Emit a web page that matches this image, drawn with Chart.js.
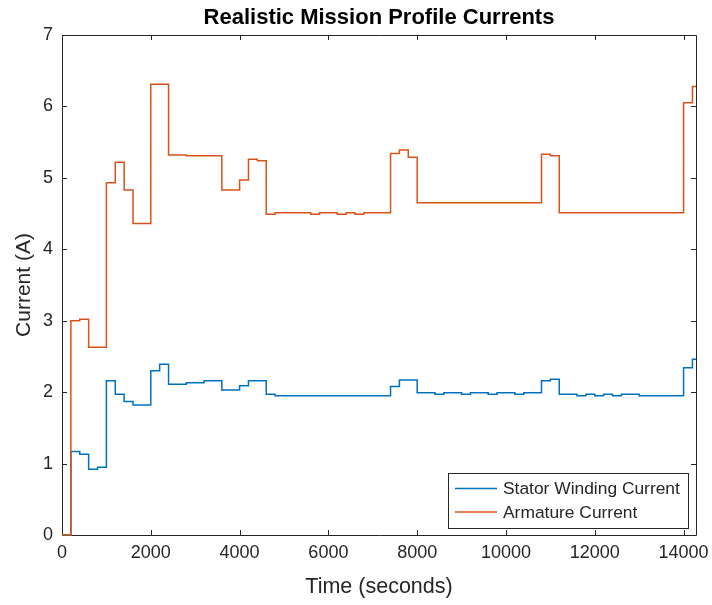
<!DOCTYPE html>
<html>
<head>
<meta charset="utf-8">
<title>Realistic Mission Profile Currents</title>
<script src="https://cdn.jsdelivr.net/npm/chart.js@4/dist/chart.umd.min.js"></script>
<style>
  html, body { margin: 0; padding: 0; background: #ffffff; }
  #wrap { width: 712px; height: 605px; }
</style>
</head>
<body>
<div id="wrap"><canvas id="chart" width="712" height="605"></canvas></div>
<script>
// Mission profile samples: each current value holds until the next time stamp (stairs).
const statorTimes = [0, 200, 400, 600, 800, 1000, 1200, 1400, 1600, 2000, 2200, 2400, 2800, 3200, 3600,
  4000, 4200, 4600, 4800, 7400, 7600, 8000, 8400, 8600, 9000, 9200, 9600, 9800, 10200, 10400,
  10800, 11000, 11200, 11600, 11800, 12000, 12200, 12400, 12600, 13000, 14000, 14200, 14280];
const statorCurrent = [0, 1.17, 1.13, 0.92, 0.95, 2.16, 1.97, 1.87, 1.82, 2.30, 2.39, 2.11, 2.13, 2.16, 2.03,
  2.09, 2.16, 1.97, 1.95, 2.08, 2.17, 1.99, 1.97, 1.99, 1.97, 1.99, 1.97, 1.99, 1.97, 1.99,
  2.16, 2.18, 1.97, 1.95, 1.97, 1.95, 1.97, 1.95, 1.97, 1.95, 2.34, 2.46, 2.46];

const armatureTimes = [0, 200, 400, 600, 1000, 1200, 1400, 1600, 2000, 2400, 2800, 3600, 4000, 4200, 4400,
  4600, 4800, 5600, 5800, 6200, 6400, 6600, 6800, 7400, 7600, 7800, 8000, 10800, 11000, 11200,
  14000, 14200, 14280];
const armatureCurrent = [0, 3.00, 3.02, 2.63, 4.93, 5.22, 4.83, 4.36, 6.31, 5.32, 5.31, 4.83, 4.97, 5.26, 5.24,
  4.49, 4.51, 4.49, 4.51, 4.49, 4.51, 4.49, 4.51, 5.34, 5.39, 5.29, 4.65, 5.33, 5.31, 4.51,
  6.05, 6.28, 6.28];

const seriesNames = ['Stator Winding Current', 'Armature Current'];
const timeTicks = [0, 2000, 4000, 6000, 8000, 10000, 12000, 14000];
const currentTicks = [0, 1, 2, 3, 4, 5, 6, 7];

const chartTitle = 'Realistic Mission Profile Currents';
const xTitle = 'Time (seconds)';
const yTitle = 'Current (A)';

const BLUE = '#0072BD';
const ORANGE = '#D95319';
const AXIS = '#262626';
const FONT = '"Liberation Sans", Arial, Helvetica, sans-serif';

function toPoints(xs, ys) {
  return xs.map((x, i) => ({ x: x, y: ys[i] }));
}

// Axes box with inward tick marks on all four sides (drawn beneath the data).
const boxPlugin = {
  id: 'boxAxes',
  beforeDatasetsDraw(chart) {
    const { ctx, chartArea: a, scales } = chart;
    const len = 5;
    ctx.save();
    ctx.strokeStyle = AXIS;
    ctx.lineWidth = 1;
    ctx.beginPath();
    ctx.rect(Math.round(a.left) + 0.5, Math.round(a.top) + 0.5,
             Math.round(a.right - a.left), Math.round(a.bottom - a.top));
    scales.x.ticks.forEach(t => {
      const px = Math.round(scales.x.getPixelForValue(t.value)) + 0.5;
      ctx.moveTo(px, a.bottom); ctx.lineTo(px, a.bottom - len);
      ctx.moveTo(px, a.top); ctx.lineTo(px, a.top + len);
    });
    scales.y.ticks.forEach(t => {
      const py = Math.round(scales.y.getPixelForValue(t.value)) + 0.5;
      ctx.moveTo(a.left, py); ctx.lineTo(a.left + len, py);
      ctx.moveTo(a.right, py); ctx.lineTo(a.right - len, py);
    });
    ctx.stroke();
    ctx.restore();
  },
  afterDraw(chart) {
    const { ctx, chartArea: a } = chart;
    ctx.save();
    ctx.fillStyle = '#000000';
    ctx.font = 'bold 22px ' + FONT;
    ctx.textAlign = 'center';
    ctx.textBaseline = 'middle';
    ctx.fillText(chartTitle, (a.left + a.right) / 2, 18);
    ctx.restore();
  }
};

// Boxed legend in the lower right corner of the plot area.
const legendPlugin = {
  id: 'boxLegend',
  afterDatasetsDraw(chart) {
    const { ctx, chartArea: a } = chart;
    const left = a.right - 248, right = a.right - 8.5;
    const top = a.bottom - 62, bottom = a.bottom - 7;
    ctx.save();
    ctx.fillStyle = '#ffffff';
    ctx.fillRect(left, top, right - left, bottom - top);
    ctx.strokeStyle = AXIS;
    ctx.lineWidth = 1;
    ctx.strokeRect(Math.round(left) + 0.5, Math.round(top) + 0.5,
                   Math.round(right - left), Math.round(bottom - top));
    ctx.font = '17.4px ' + FONT;
    ctx.textBaseline = 'middle';
    ctx.textAlign = 'left';
    chart.data.datasets.forEach((ds, i) => {
      const y = top + 15.5 + i * 23.5;
      ctx.strokeStyle = ds.borderColor;
      ctx.lineWidth = 1.5;
      ctx.beginPath();
      ctx.moveTo(left + 7, y);
      ctx.lineTo(left + 49, y);
      ctx.stroke();
      ctx.fillStyle = AXIS;
      ctx.fillText(ds.label, left + 55, y + 1);
    });
    ctx.restore();
  }
};

new Chart(document.getElementById('chart'), {
  type: 'line',
  data: {
    datasets: [
      {
        label: seriesNames[0],
        data: toPoints(statorTimes, statorCurrent),
        borderColor: BLUE,
        backgroundColor: BLUE,
        borderWidth: 1.5,
        stepped: 'before',
        pointRadius: 0,
        fill: false,
        clip: 4,
        order: 2
      },
      {
        label: seriesNames[1],
        data: toPoints(armatureTimes, armatureCurrent),
        borderColor: ORANGE,
        backgroundColor: ORANGE,
        borderWidth: 1.5,
        stepped: 'before',
        pointRadius: 0,
        fill: false,
        clip: 4,
        order: 1
      }
    ]
  },
  options: {
    responsive: false,
    animation: false,
    devicePixelRatio: 1,
    layout: { padding: { top: 35, right: 16, left: 0, bottom: 0 } },
    plugins: {
      legend: { display: false },
      title: { display: false },
      tooltip: { enabled: false }
    },
    scales: {
      x: {
        type: 'linear',
        min: 0,
        max: 14280,
        afterFit(s) { s.height = 70; s.paddingLeft = 0; s.paddingRight = 0; },
        afterBuildTicks(s) { s.ticks = timeTicks.map(v => ({ value: v })); },
        grid: { display: false, drawTicks: false },
        border: { display: false },
        ticks: {
          color: AXIS,
          font: { family: FONT, size: 18 },
          padding: 7,
          maxRotation: 0,
          autoSkip: false,
          callback: v => String(v)
        },
        title: {
          display: true,
          text: xTitle,
          color: AXIS,
          font: { family: FONT, size: 21.5 },
          padding: { top: 0, bottom: 5 }
        }
      },
      y: {
        type: 'linear',
        min: 0,
        max: 7,
        afterFit(s) { s.width = 62; s.paddingTop = 0; s.paddingBottom = 0; },
        afterBuildTicks(s) { s.ticks = currentTicks.map(v => ({ value: v })); },
        grid: { display: false, drawTicks: false },
        border: { display: false },
        ticks: {
          color: AXIS,
          font: { family: FONT, size: 18 },
          padding: 9,
          autoSkip: false,
          callback: v => String(v)
        },
        title: {
          display: true,
          text: yTitle,
          color: AXIS,
          font: { family: FONT, size: 21 },
          padding: { top: 12, bottom: 0 }
        }
      }
    }
  },
  plugins: [boxPlugin, legendPlugin]
});
</script>
</body>
</html>
